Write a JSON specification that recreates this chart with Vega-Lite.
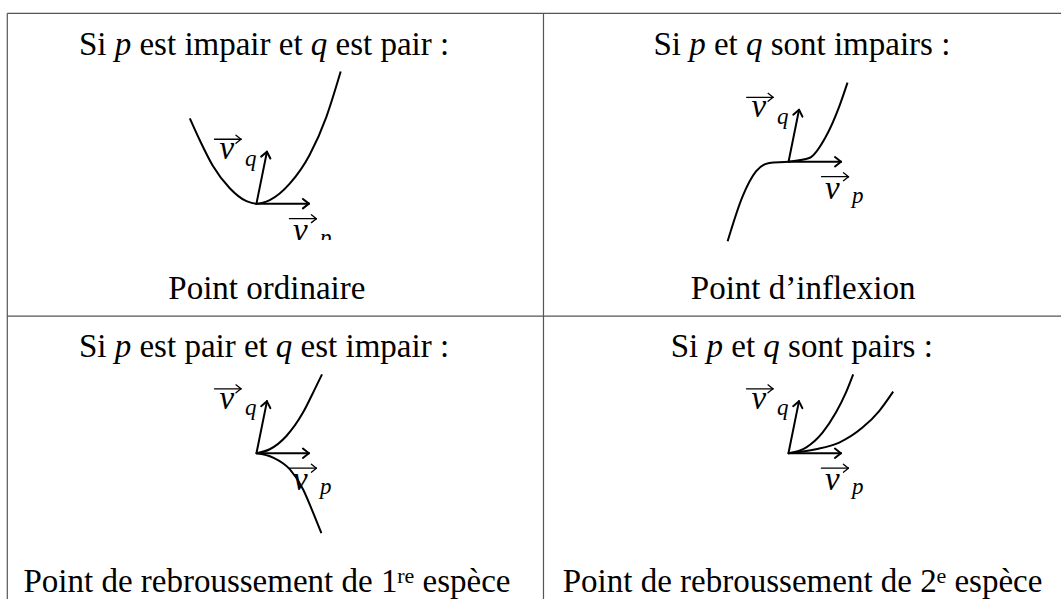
{
  "$schema": "https://vega.github.io/schema/vega-lite/v6.json",
  "width": 1062,
  "height": 600,
  "autosize": {"type": "fit", "contains": "padding"},
  "padding": 0,
  "background": "white",
  "config": {"view": {"stroke": null}},
  "datasets": {
    "borders": [
      {"x": 7.3, "y": 13.3, "x2": 1062, "y2": 13.3},
      {"x": 7.3, "y": 13.3, "x2": 7.3, "y2": 600},
      {"x": 544, "y": 13.3, "x2": 544, "y2": 600},
      {"x": 7.3, "y": 316.7, "x2": 1062, "y2": 316.7}
    ],
    "vectors": [
      {"x": 256.7, "y": 204, "x2": 309.2, "y2": 204},
      {"x": 303.2, "y": 199.3, "x2": 309.2, "y2": 204},
      {"x": 303.2, "y": 208.7, "x2": 309.2, "y2": 204},
      {"x": 256.7, "y": 204, "x2": 267.2, "y2": 152},
      {"x": 270.6, "y": 158.8, "x2": 267.2, "y2": 152},
      {"x": 261.4, "y": 156.9, "x2": 267.2, "y2": 152},
      {"x": 789.3, "y": 162, "x2": 841.8, "y2": 162},
      {"x": 835.8, "y": 157.3, "x2": 841.8, "y2": 162},
      {"x": 835.8, "y": 166.7, "x2": 841.8, "y2": 162},
      {"x": 789.3, "y": 162, "x2": 799.8, "y2": 110},
      {"x": 803.2, "y": 116.8, "x2": 799.8, "y2": 110},
      {"x": 794.0, "y": 114.9, "x2": 799.8, "y2": 110},
      {"x": 256.7, "y": 454, "x2": 309.2, "y2": 454},
      {"x": 303.2, "y": 449.3, "x2": 309.2, "y2": 454},
      {"x": 303.2, "y": 458.7, "x2": 309.2, "y2": 454},
      {"x": 256.7, "y": 454, "x2": 267.2, "y2": 402},
      {"x": 270.6, "y": 408.8, "x2": 267.2, "y2": 402},
      {"x": 261.4, "y": 406.9, "x2": 267.2, "y2": 402},
      {"x": 789.2, "y": 454, "x2": 841.7, "y2": 454},
      {"x": 835.7, "y": 449.3, "x2": 841.7, "y2": 454},
      {"x": 835.7, "y": 458.7, "x2": 841.7, "y2": 454},
      {"x": 789.2, "y": 454, "x2": 799.7, "y2": 402},
      {"x": 803.1, "y": 408.8, "x2": 799.7, "y2": 402},
      {"x": 793.9, "y": 406.9, "x2": 799.7, "y2": 402}
    ],
    "overarrows": [
      {"x": 214.7, "y": 139.5, "x2": 241.2, "y2": 139.5},
      {"x": 236.2, "y": 135.5, "x2": 241.2, "y2": 139.5},
      {"x": 236.2, "y": 143.5, "x2": 241.2, "y2": 139.5},
      {"x": 289.7, "y": 219, "x2": 316.7, "y2": 219},
      {"x": 311.7, "y": 215, "x2": 316.7, "y2": 219},
      {"x": 311.7, "y": 223, "x2": 316.7, "y2": 219},
      {"x": 747.3, "y": 97.5, "x2": 773.8, "y2": 97.5},
      {"x": 768.8, "y": 93.5, "x2": 773.8, "y2": 97.5},
      {"x": 768.8, "y": 101.5, "x2": 773.8, "y2": 97.5},
      {"x": 822.3, "y": 177, "x2": 849.3, "y2": 177},
      {"x": 844.3, "y": 173, "x2": 849.3, "y2": 177},
      {"x": 844.3, "y": 181, "x2": 849.3, "y2": 177},
      {"x": 214.7, "y": 389.5, "x2": 241.2, "y2": 389.5},
      {"x": 236.2, "y": 385.5, "x2": 241.2, "y2": 389.5},
      {"x": 236.2, "y": 393.5, "x2": 241.2, "y2": 389.5},
      {"x": 289.7, "y": 469, "x2": 316.7, "y2": 469},
      {"x": 311.7, "y": 465, "x2": 316.7, "y2": 469},
      {"x": 311.7, "y": 473, "x2": 316.7, "y2": 469},
      {"x": 747.2, "y": 389.5, "x2": 773.7, "y2": 389.5},
      {"x": 768.7, "y": 385.5, "x2": 773.7, "y2": 389.5},
      {"x": 768.7, "y": 393.5, "x2": 773.7, "y2": 389.5},
      {"x": 822.2, "y": 469, "x2": 849.2, "y2": 469},
      {"x": 844.2, "y": 465, "x2": 849.2, "y2": 469},
      {"x": 844.2, "y": 473, "x2": 849.2, "y2": 469}
    ],
    "curves": [
      {"g": "c1", "x": 190, "y": 118.5},
      {"g": "c1", "x": 200, "y": 140.5},
      {"g": "c1", "x": 213, "y": 166},
      {"g": "c1", "x": 230, "y": 188.5},
      {"g": "c1", "x": 246.7, "y": 201.5},
      {"g": "c1", "x": 256.7, "y": 204},
      {"g": "c1", "x": 270, "y": 200.5},
      {"g": "c1", "x": 290, "y": 184},
      {"g": "c1", "x": 310, "y": 155},
      {"g": "c1", "x": 326.7, "y": 117},
      {"g": "c1", "x": 341, "y": 71.7},
      {"g": "c2", "x": 728.3, "y": 241.7},
      {"g": "c2", "x": 743.3, "y": 196.7},
      {"g": "c2", "x": 756.7, "y": 171.7},
      {"g": "c2", "x": 770, "y": 163.3},
      {"g": "c2", "x": 789.3, "y": 162},
      {"g": "c2", "x": 810, "y": 158.3},
      {"g": "c2", "x": 826.7, "y": 136.7},
      {"g": "c2", "x": 840, "y": 106.7},
      {"g": "c2", "x": 848.3, "y": 82.7},
      {"g": "c3a", "x": 256.7, "y": 454},
      {"g": "c3a", "x": 270, "y": 450},
      {"g": "c3a", "x": 286.7, "y": 436.7},
      {"g": "c3a", "x": 303.3, "y": 413.3},
      {"g": "c3a", "x": 315, "y": 390},
      {"g": "c3a", "x": 322.3, "y": 375},
      {"g": "c3b", "x": 256.7, "y": 454},
      {"g": "c3b", "x": 273.3, "y": 458.3},
      {"g": "c3b", "x": 290, "y": 470},
      {"g": "c3b", "x": 303.3, "y": 490},
      {"g": "c3b", "x": 313.3, "y": 513.3},
      {"g": "c3b", "x": 321.7, "y": 534},
      {"g": "c4a", "x": 789.2, "y": 454},
      {"g": "c4a", "x": 806.7, "y": 448.3},
      {"g": "c4a", "x": 823.3, "y": 433.3},
      {"g": "c4a", "x": 836.7, "y": 413.3},
      {"g": "c4a", "x": 846.7, "y": 393.3},
      {"g": "c4a", "x": 854, "y": 375},
      {"g": "c4b", "x": 789.2, "y": 454},
      {"g": "c4b", "x": 816.7, "y": 450},
      {"g": "c4b", "x": 840, "y": 443.3},
      {"g": "c4b", "x": 863.3, "y": 428.3},
      {"g": "c4b", "x": 880, "y": 411.7},
      {"g": "c4b", "x": 894, "y": 392.3}
    ],
    "roman": [
      {"x": 79, "y": 55, "t": "Si"},
      {"x": 139.6, "y": 55, "t": "est impair et"},
      {"x": 335.8, "y": 55, "t": "est pair :"},
      {"x": 654, "y": 55, "t": "Si"},
      {"x": 714.6, "y": 55, "t": "et"},
      {"x": 771.4, "y": 55, "t": "sont impairs :"},
      {"x": 79, "y": 358, "t": "Si"},
      {"x": 139.6, "y": 358, "t": "est pair et"},
      {"x": 300.9, "y": 358, "t": "est impair :"},
      {"x": 671.4, "y": 358, "t": "Si"},
      {"x": 732.0, "y": 358, "t": "et"},
      {"x": 788.8, "y": 358, "t": "sont pairs :"},
      {"x": 168.5, "y": 299, "t": "Point ordinaire"},
      {"x": 691.5, "y": 299, "t": "Point d’inflexion"},
      {"x": 23.5, "y": 593, "t": "Point de rebroussement de 1"},
      {"x": 422.9, "y": 593, "t": "espèce"},
      {"x": 563.3, "y": 593, "t": "Point de rebroussement de 2"},
      {"x": 955.3, "y": 593, "t": "espèce"}
    ],
    "sup": [
      {"x": 397.5, "y": 584, "t": "re"},
      {"x": 937.3, "y": 584, "t": "e"}
    ],
    "italic": [
      {"x": 114.8, "y": 55, "t": "p"},
      {"x": 311.0, "y": 55, "t": "q"},
      {"x": 689.8, "y": 55, "t": "p"},
      {"x": 746.6, "y": 55, "t": "q"},
      {"x": 114.8, "y": 358, "t": "p"},
      {"x": 276.1, "y": 358, "t": "q"},
      {"x": 707.2, "y": 358, "t": "p"},
      {"x": 764.0, "y": 358, "t": "q"},
      {"x": 219.7, "y": 159.5, "t": "v"},
      {"x": 293.2, "y": 241, "t": "v"},
      {"x": 752.3, "y": 117.5, "t": "v"},
      {"x": 825.8, "y": 199, "t": "v"},
      {"x": 219.7, "y": 409.5, "t": "v"},
      {"x": 293.2, "y": 491, "t": "v"},
      {"x": 752.2, "y": 409.5, "t": "v"},
      {"x": 825.7, "y": 491, "t": "v"}
    ],
    "sub": [
      {"x": 245.2, "y": 166, "t": "q"},
      {"x": 320.2, "y": 245, "t": "p"},
      {"x": 777.8, "y": 124, "t": "q"},
      {"x": 852.8, "y": 203, "t": "p"},
      {"x": 245.2, "y": 416, "t": "q"},
      {"x": 320.2, "y": 495, "t": "p"},
      {"x": 777.7, "y": 416, "t": "q"},
      {"x": 852.7, "y": 495, "t": "p"}
    ],
    "mask": [
      {"x": 285, "y": 240.5, "x2": 340, "y2": 256}
    ]
  },
  "encoding": {
    "x": {"field": "x", "type": "quantitative", "scale": {"domain": [0, 1062], "nice": false, "zero": false}, "axis": null},
    "y": {"field": "y", "type": "quantitative", "scale": {"domain": [0, 600], "nice": false, "zero": false, "reverse": true}, "axis": null}
  },
  "layer": [
    {
      "data": {"name": "borders"},
      "mark": {"type": "rule", "color": "#555555", "strokeWidth": 1.2},
      "encoding": {"x2": {"field": "x2"}, "y2": {"field": "y2"}}
    },
    {
      "data": {"name": "curves"},
      "mark": {"type": "line", "interpolate": "monotone", "color": "black", "strokeWidth": 2},
      "encoding": {"detail": {"field": "g", "type": "nominal"}}
    },
    {
      "data": {"name": "vectors"},
      "mark": {"type": "rule", "color": "black", "strokeWidth": 2, "strokeCap": "round"},
      "encoding": {"x2": {"field": "x2"}, "y2": {"field": "y2"}}
    },
    {
      "data": {"name": "overarrows"},
      "mark": {"type": "rule", "color": "black", "strokeWidth": 1.3, "strokeCap": "round"},
      "encoding": {"x2": {"field": "x2"}, "y2": {"field": "y2"}}
    },
    {
      "data": {"name": "roman"},
      "mark": {"type": "text", "align": "left", "baseline": "alphabetic", "font": "Liberation Serif", "fontSize": 33, "color": "black"},
      "encoding": {"text": {"field": "t", "type": "nominal"}}
    },
    {
      "data": {"name": "sup"},
      "mark": {"type": "text", "align": "left", "baseline": "alphabetic", "font": "Liberation Serif", "fontSize": 22, "color": "black"},
      "encoding": {"text": {"field": "t", "type": "nominal"}}
    },
    {
      "data": {"name": "italic"},
      "mark": {"type": "text", "align": "left", "baseline": "alphabetic", "font": "Liberation Serif", "fontStyle": "italic", "fontSize": 33, "color": "black"},
      "encoding": {"text": {"field": "t", "type": "nominal"}}
    },
    {
      "data": {"name": "sub"},
      "mark": {"type": "text", "align": "left", "baseline": "alphabetic", "font": "Liberation Serif", "fontStyle": "italic", "fontSize": 23, "color": "black"},
      "encoding": {"text": {"field": "t", "type": "nominal"}}
    },
    {
      "data": {"name": "mask"},
      "mark": {"type": "rect", "color": "white", "stroke": null},
      "encoding": {"x2": {"field": "x2"}, "y2": {"field": "y2"}}
    }
  ]
}
